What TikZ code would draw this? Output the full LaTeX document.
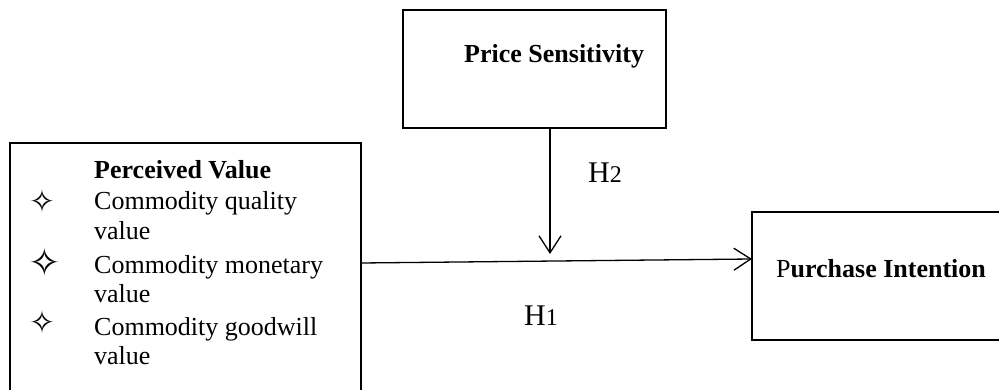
\documentclass[tikz,border=0pt]{standalone}
\usepackage{fontspec}
\setmainfont{Liberation Serif}
\newfontfamily\symfont{DejaVu Sans}
\usetikzlibrary{arrows.meta}
\begin{document}
\begin{tikzpicture}[x=1pt,y=-1pt,
  box/.style={draw,line width=1.3pt,inner sep=0,outer sep=0},
  txt/.style={inner sep=0,anchor=base west,font=\fontsize{26}{31}\selectfont},
  btxt/.style={txt,font=\fontsize{26}{31}\selectfont\bfseries},
  hyp/.style={inner sep=0,anchor=base west,font=\fontsize{30}{31}\selectfont},
  bullet/.style={inner sep=0,font=\symfont\fontsize{#1}{#1}\selectfont},
  arr/.style={line width=1.3pt,-{Straight Barb[length=17pt,width=22pt,line width=1.3pt]}}]
\clip (0,0) rectangle (999,390);

% boxes
\node[box,minimum width=351pt,minimum height=280pt] (pv) at (185.5,283) {};
\node[box,minimum width=263pt,minimum height=118pt] (ps) at (534.5,69) {};
\node[box,minimum width=270pt,minimum height=128pt] (pi) at (887,276) {};

% texts
\node[btxt] (tps) at (464,63) {Price Sensitivity};
\node[txt] (tpi) at (776,277) {P\textbf{urchase Intention}};
\node[btxt] (tpv) at (94,179) {Perceived Value};
\node[txt] (l1) at (94,210) {Commodity quality};
\node[txt] (l2) at (94,240) {value};
\node[txt] (l3) at (94,273) {Commodity monetary};
\node[txt] (l4) at (94,302) {value};
\node[txt] (l5) at (94,335) {Commodity goodwill};
\node[txt] (l6) at (94,364) {value};
\node[bullet=31] (b1) at (42.5,201.5) {✧};
\node[bullet=39] (b2) at (45,262) {✧};
\node[bullet=31] (b3) at (42.5,322.5) {✧};
\node[hyp] (h2) at (588,183) {H\fontsize{24}{24}\selectfont2};
\node[hyp] (h1) at (524,325) {H\fontsize{24}{24}\selectfont1};

% connectors
\coordinate (hs) at (361,263);
\coordinate (he) at (752,259);
\coordinate (vs) at (550,128);
\coordinate (ve) at (550,254);
\draw[arr] (hs) -- (he);
\draw[arr] (vs) -- (ve);
\end{tikzpicture}
\end{document}
